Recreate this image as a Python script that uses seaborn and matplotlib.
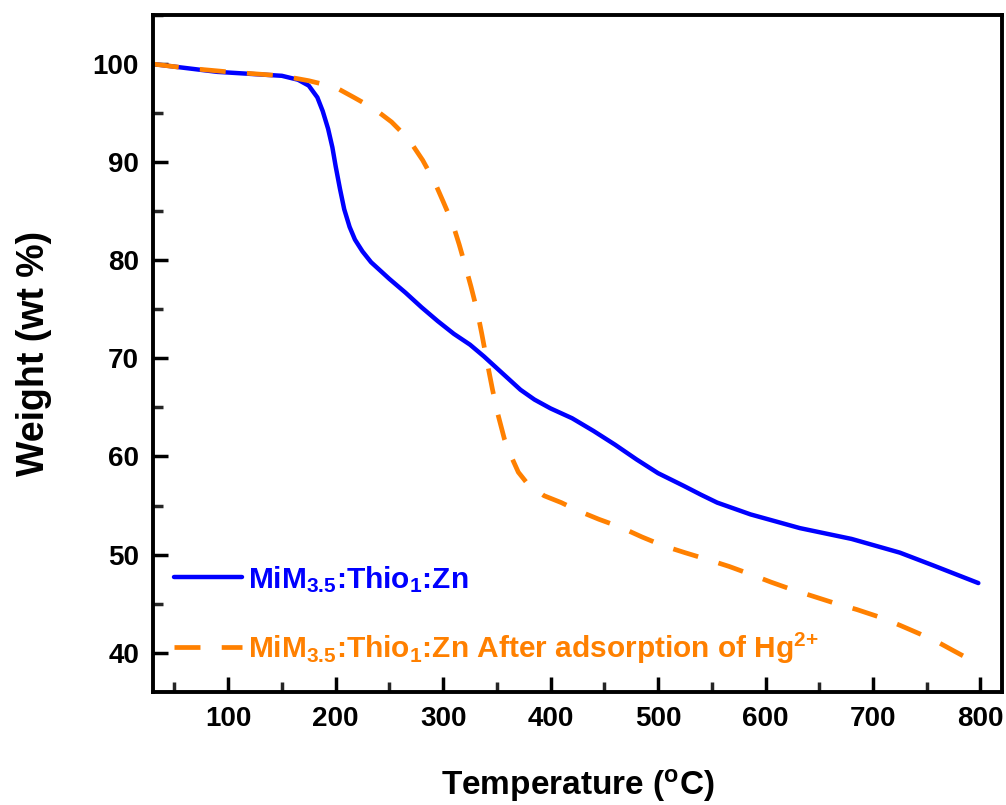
import matplotlib
matplotlib.use("Agg")
import matplotlib.pyplot as plt
from matplotlib.ticker import MultipleLocator
import seaborn as sns
import pandas as pd

# ---- data ----
temp_a = [30, 60, 90, 120, 150, 165, 175, 183, 188, 193, 197, 200, 204, 208, 213, 218,
          225, 233, 250, 265, 280, 295, 310, 325, 338, 350, 362, 372, 385, 400, 420,
          440, 460, 480, 500, 524, 540, 555, 586, 632, 680, 725, 756, 798]
weight_a = [100.0, 99.6, 99.2, 99.0, 98.8, 98.4, 97.8, 96.6, 95.2, 93.4, 91.5, 89.6, 87.3,
            85.2, 83.4, 82.1, 80.9, 79.8, 78.1, 76.7, 75.2, 73.8, 72.5, 71.4, 70.2, 69.0,
            67.8, 66.8, 65.8, 64.9, 63.9, 62.6, 61.2, 59.7, 58.3, 57.0, 56.1, 55.3, 54.1,
            52.7, 51.6, 50.2, 48.9, 47.1]

temp_b = [30, 60, 100, 150, 175, 190, 202, 217, 230, 240, 252, 262, 270, 281, 292, 300,
          309, 315, 321, 326, 332, 336, 341, 346, 351, 357, 363, 370, 378, 394, 410, 425,
          445, 465, 485, 505, 525, 546, 566, 586, 605, 623, 643, 663, 685, 707, 725, 744,
          760, 775, 792, 798]
weight_b = [100.0, 99.6, 99.2, 98.8, 98.3, 97.9, 97.5, 96.6, 95.8, 95.1, 94.1, 93.0, 92.0,
            90.2, 88.0, 86.0, 83.7, 81.6, 79.3, 77.3, 74.7, 72.5, 69.6, 66.8, 64.3, 61.8,
            60.1, 58.4, 57.3, 56.0, 55.3, 54.5, 53.6, 52.8, 51.8, 50.9, 50.2, 49.5, 48.8,
            48.0, 47.2, 46.5, 45.8, 45.1, 44.4, 43.6, 42.8, 41.9, 41.1, 40.2, 39.2, 38.8]

label_a = r"MiM$_{\mathbf{3.5}}$:Thio$_{\mathbf{1}}$:Zn"
label_b = r"MiM$_{\mathbf{3.5}}$:Thio$_{\mathbf{1}}$:Zn After adsorption of Hg$^{\mathbf{2{+}}}$"
x_ticks = [100, 200, 300, 400, 500, 600, 700, 800]
y_ticks = [40, 50, 60, 70, 80, 90, 100]

sns.set_theme(style="ticks")
plt.rcParams["font.family"] = ["Liberation Sans", "DejaVu Sans"]
plt.rcParams["font.weight"] = "bold"
plt.rcParams["text.color"] = "black"
plt.rcParams["axes.labelcolor"] = "black"
plt.rcParams["mathtext.fontset"] = "custom"
plt.rcParams["mathtext.rm"] = "Liberation Sans:bold"
plt.rcParams["mathtext.bf"] = "Liberation Sans:bold"
plt.rcParams["mathtext.default"] = "bf"

fig = plt.figure(figsize=(10.06, 8.05), dpi=100)
ax = fig.add_axes([0.152, 0.1404, 0.844, 0.841])

df_a = pd.DataFrame({"Temperature": temp_a, "Weight": weight_a})
df_b = pd.DataFrame({"Temperature": temp_b, "Weight": weight_b})

sns.lineplot(data=df_a, x="Temperature", y="Weight", ax=ax, color="#0000FF",
             linewidth=3.2, label=label_a)
sns.lineplot(data=df_b, x="Temperature", y="Weight", ax=ax, color="#FF8000",
             linewidth=3.4, linestyle=(0, (5.5, 4.5)), label=label_b)

ax.set_xlim(30, 820)
ax.set_ylim(36, 105)
ax.set_xticks(x_ticks)
ax.set_yticks(y_ticks)
ax.xaxis.set_minor_locator(MultipleLocator(50))
ax.yaxis.set_minor_locator(MultipleLocator(5))

for side in ["left", "bottom", "top", "right"]:
    ax.spines[side].set_linewidth(2.8)
    ax.spines[side].set_color("black")

ax.tick_params(axis="both", which="major", direction="in", length=11, width=2.5,
               labelsize=20, pad=10, colors="black")
ax.tick_params(axis="both", which="minor", direction="in", length=7, width=2.5)
for lab in ax.get_xticklabels() + ax.get_yticklabels():
    lab.set_fontweight("bold")

ax.set_xlabel("Temperature ($^{\\mathbf{o}}$C)", fontsize=24, fontweight="bold",
              labelpad=25, color="black")
ax.set_ylabel("Weight (wt %)", fontsize=27, fontweight="bold", labelpad=29, color="black")

leg = ax.legend(loc="lower left", bbox_to_anchor=(0.0, 0.008), frameon=False,
                fontsize=21.5, handlelength=2.3, handletextpad=0.2,
                labelspacing=1.2, borderaxespad=0.3)
for txt, col in zip(leg.get_texts(), ["#0000FF", "#FF8000"]):
    txt.set_color(col)
    txt.set_fontweight("bold")

fig.savefig("out.png", dpi=100)
